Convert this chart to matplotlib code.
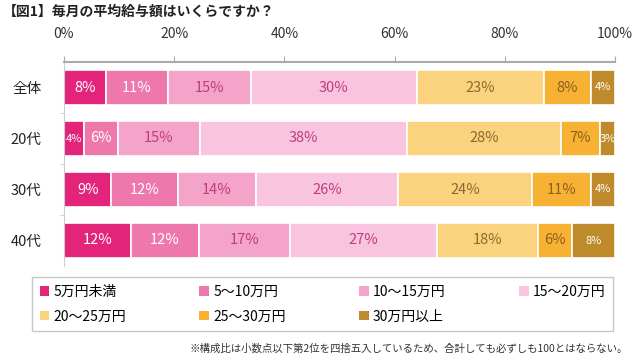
import numpy as np
import matplotlib
matplotlib.use("Agg")
import matplotlib.pyplot as plt
from matplotlib.patches import Patch

plt.rcParams['font.family'] = ['Noto Sans CJK JP', 'DejaVu Sans']

# data (percent, rounded labels shown on the bars)
groups = ["全体", "20代", "30代", "40代"]
brackets = ["5万円未満", "5～10万円", "10～15万円", "15～20万円",
            "20～25万円", "25～30万円", "30万円以上"]
lt5 = [7.6, 3.6, 8.6, 12.2]
b5_10 = [11.2, 6.2, 12.0, 12.3]
b10_15 = [15.1, 14.8, 14.3, 16.6]
b15_20 = [30.1, 37.7, 25.8, 26.6]
b20_25 = [23.2, 27.9, 24.2, 18.3]
b25_30 = [8.4, 7.1, 10.7, 6.2]
ge30 = [4.4, 2.7, 4.4, 7.8]
series = [lt5, b5_10, b10_15, b15_20, b20_25, b25_30, ge30]

colors = ["#e3247a", "#ee78ab", "#f4a3c9", "#f8c4de", "#fbd37e", "#f8b233", "#bf8a2b"]
text_colors = ["white", "white", "#c23c7c", "#c23c7c", "#8a6a2c", "#8a5f22", "white"]

fig = plt.figure(figsize=(6.43, 3.64), dpi=100)
ax = fig.add_axes([64 / 643, 1 - 266 / 364, 551 / 643, 204 / 364])

y = np.arange(len(groups))
left = np.zeros(len(groups))
for i, vals in enumerate(series):
    vals = np.array(vals)
    ax.barh(y, vals, left=left, height=0.68, color=colors[i],
            edgecolor="white", linewidth=1.2, label=brackets[i])
    for j, v in enumerate(vals):
        small = (i == len(series) - 1) or v < 5
        ax.text(left[j] + v / 2, y[j], f"{v:.0f}%", ha="center", va="center",
                color=text_colors[i], fontsize=8 if small else 10.5)
    left += vals

ax.set_xlim(0, 100)
ax.set_ylim(3.5, -0.5)
ax.xaxis.tick_top()
ax.set_xticks(np.arange(0, 101, 20))
ax.set_xticklabels([f"{t}%" for t in range(0, 101, 20)])
ax.set_yticks(y)
ax.set_yticklabels(groups)
ax.set_yticks([0.5, 1.5, 2.5], minor=True)
ax.tick_params(axis="x", direction="out", length=4, pad=11, colors="#aaaaaa",
               labelcolor="#333333", labelsize=10)
ax.tick_params(axis="y", which="major", length=0, pad=16, labelcolor="#222222", labelsize=10.5)
ax.tick_params(axis="y", which="minor", length=3, color="#cccccc")
for s in ["bottom", "right"]:
    ax.spines[s].set_visible(False)
ax.spines["top"].set_color("#aaaaaa")
ax.spines["top"].set_linewidth(1.5)
ax.spines["left"].set_color("#cccccc")

fig.text(3 / 643, 1 - 12 / 364, "【図1】毎月の平均給与額はいくらですか？", fontsize=10,
         fontweight="bold", va="center", ha="left", color="#222222")

order = [0, 4, 1, 5, 2, 6, 3]
handles = [Patch(facecolor=colors[k], edgecolor="none") for k in order]
labels = [brackets[k] for k in order]
leg = fig.legend(handles, labels, ncol=4, loc="lower left",
                 bbox_to_anchor=(25 / 643, 1 - 338 / 364, 595 / 643, 56 / 364),
                 mode="expand", fontsize=10, handlelength=0.7, handleheight=0.7,
                 handletextpad=0.3, labelspacing=0.75, borderpad=0.55,
                 fancybox=False, frameon=True)
leg.get_frame().set_edgecolor("#bbbbbb")
leg.get_frame().set_linewidth(1.0)

fig.text(628 / 643, 1 - 349 / 364,
         "※構成比は小数点以下第2位を四捨五入しているため、合計しても必ずしも100とはならない。",
         fontsize=7.5, ha="right", va="center", color="#333333")

fig.savefig("out.png", dpi=100)
